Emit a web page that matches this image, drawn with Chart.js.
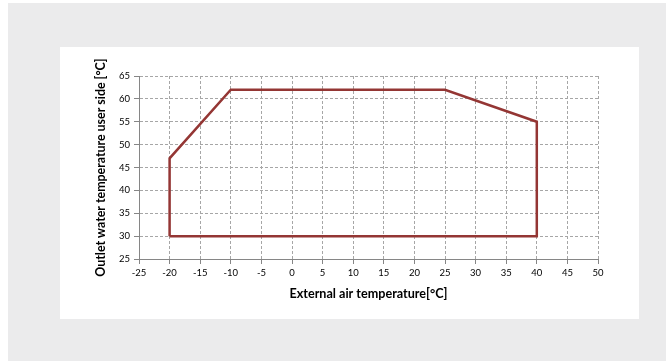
<!DOCTYPE html>
<html>
<head>
<meta charset="utf-8">
<script src="https://cdn.jsdelivr.net/npm/chart.js@4"></script>
<style>
  html, body { margin: 0; padding: 0; background: #fff; }
  #bg { position: absolute; left: 8px; top: 3px; width: 658px; height: 358px; background: #ebebec; }
  #panel { position: absolute; left: 60px; top: 47px; width: 579px; height: 272px; background: #fff; }
  canvas { display: block; }
</style>
</head>
<body>
<div id="bg"></div>
<div id="panel"><canvas id="chart" width="579" height="272"></canvas></div>
<script>
// Envelope de funcionamento (temperatura do ar externo x água de saída)
const airTemp   = [-20, -20, -10, 25, 40, 40, -20];
const waterTemp = [30, 47, 62, 62, 55, 30, 30];

const xMin = -25, xMax = 50, xStep = 5;
const yMin = 25,  yMax = 65, yStep = 5;

const xTitle = 'External air temperature[°C]';
const yTitle = 'Outlet water temperature user side [°C]';

const points = airTemp.map((x, i) => ({ x: x, y: waterTemp[i] }));

// Grade tracejada, eixos sólidos
const gridStyle = {
    color: '#a6a6a6',
    tickBorderDash: [],
    tickColor: '#868686',
    tickLength: 5
};
const borderStyle = { color: '#868686', dash: [3, 2] };

const ctx = document.getElementById('chart').getContext('2d');
new Chart(ctx, {
    type: 'scatter',
    data: {
        datasets: [{
            data: points,
            showLine: true,
            borderColor: '#943634',
            borderWidth: 2.5,
            pointRadius: 0,
            fill: false,
            tension: 0
        }]
    },
    options: {
        responsive: false,
        animation: false,
        layout: { padding: { top: 29, right: 41, bottom: 0, left: 0 } },
        plugins: { legend: { display: false }, tooltip: { enabled: false } },
        scales: {
            x: {
                type: 'linear',
                min: xMin, max: xMax,
                ticks: { stepSize: xStep, color: '#000', padding: 3, font: { family: 'Lato', size: 9.5 } },
                grid: gridStyle,
                border: borderStyle,
                title: { display: true, text: xTitle, color: '#000', padding: { top: 4, bottom: 18 }, font: { family: 'Lato', size: 12.6, weight: 'bold' } },
                afterFit: function(scale) { scale.height = 60; }
            },
            y: {
                type: 'linear',
                min: yMin, max: yMax,
                ticks: { stepSize: yStep, color: '#000', padding: 4, font: { family: 'Lato', size: 9.5 } },
                grid: gridStyle,
                border: borderStyle,
                title: { display: true, text: yTitle, color: '#000', padding: { top: 34, bottom: 4 }, font: { family: 'Lato', size: 12.4, weight: 'bold' } },
                afterFit: function(scale) { scale.width = 79; }
            }
        }
    }
});
</script>
</body>
</html>
